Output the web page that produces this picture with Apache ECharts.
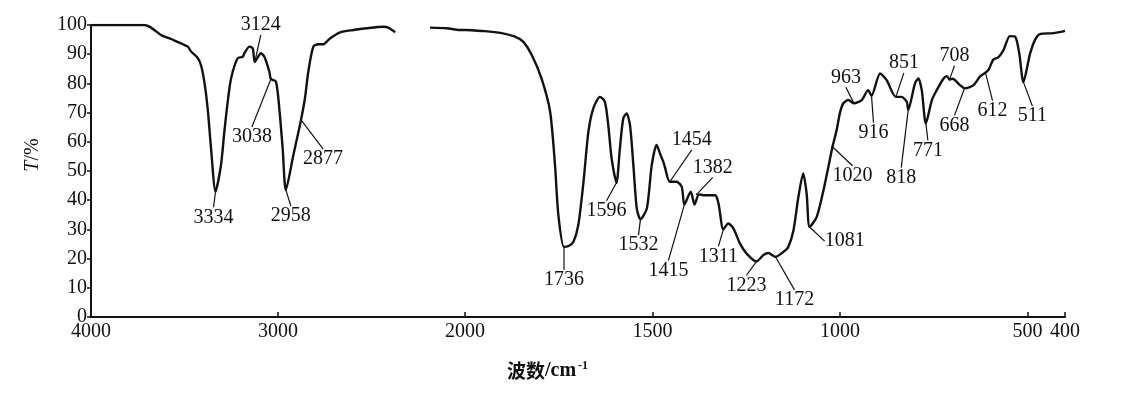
<!DOCTYPE html>
<html>
<head>
<meta charset="utf-8">
<script src="https://cdn.jsdelivr.net/npm/echarts@6/dist/echarts.min.js"></script>
<style>
  html, body { margin: 0; padding: 0; background: #fff; }
  #main { width: 1126px; height: 393px; }
</style>
</head>
<body>
<div id="main"></div>
<script>
// 光谱数据：第一段 4000 ~ 2374
var wn1 = [4000, 3715, 3679, 3626, 3572, 3483, 3465, 3430, 3412, 3394, 3376, 3358, 3334, 3305, 3287, 3269, 3251, 3216, 3189, 3180, 3153, 3135, 3124, 3091, 3073, 3046, 3038, 3011, 2993, 2975, 2958, 2918, 2877, 2856, 2838, 2811, 2784, 2758, 2722, 2668, 2597, 2526, 2437, 2410, 2374];
var t1 = [100, 100, 99.1, 96.6, 95.2, 92.6, 90.9, 88.8, 86.3, 80.6, 71.4, 57.7, 43, 52, 63.4, 73.7, 81.7, 88.6, 89.1, 90.3, 92.6, 92, 87.4, 90.3, 89.1, 84, 81.5, 80.6, 71.4, 57.7, 43.5, 55.4, 67.5, 74.9, 84, 92.6, 93.4, 93.4, 95.4, 97.5, 98.3, 98.9, 99.4, 99.1, 97.5];

// 第二段 2187 ~ 400
var wn2 = [2187, 2098, 2027, 2000, 1947, 1902, 1867, 1845, 1822, 1796, 1773, 1760, 1751, 1736, 1724, 1711, 1698, 1684, 1671, 1658, 1640, 1627, 1618, 1609, 1596, 1587, 1578, 1569, 1560, 1551, 1542, 1532, 1515, 1502, 1489, 1480, 1471, 1467, 1454, 1436, 1422, 1415, 1398, 1388, 1376, 1364, 1333, 1324, 1311, 1298, 1284, 1267, 1249, 1223, 1204, 1191, 1172, 1151, 1138, 1124, 1111, 1098, 1089, 1081, 1062, 1044, 1031, 1020, 1009, 1000, 991, 978, 963, 942, 925, 916, 893, 876, 851, 836, 822, 818, 800, 791, 782, 771, 755, 742, 724, 715, 708, 700, 680, 668, 644, 627, 612, 604, 591, 578, 564, 547, 533, 522, 511, 493, 480, 467, 431, 400];
var t2 = [99.1, 98.9, 98.3, 98.3, 97.9, 97.2, 96, 94.3, 89.7, 81.7, 70.3, 52, 34.9, 24, 24.3, 25.7, 31.4, 46.3, 63.4, 71.4, 75.4, 73.7, 65.7, 54.3, 46, 57.7, 68, 69.7, 65.7, 52, 37.2, 33.5, 37.2, 52, 58.9, 56, 53.1, 51.4, 46.3, 46.3, 44.6, 38.5, 42.9, 38.5, 42, 41.7, 41.7, 38.9, 30, 32, 30.3, 25.2, 21.7, 19, 21.2, 21.9, 20.6, 22.3, 24, 29.7, 41.1, 49.2, 42.3, 30.8, 34.3, 43.4, 51.4, 58.3, 64, 70, 73.2, 74.3, 73.2, 74.3, 77.7, 75.8, 83.4, 81.2, 75.4, 75.4, 73.7, 71, 80, 81.7, 77.7, 66.3, 74.3, 77.7, 81.7, 82.5, 81.3, 81.6, 79.4, 78.3, 79.4, 82.3, 83.7, 84.6, 88.2, 88.9, 91.4, 96.2, 96, 90.3, 80.5, 90.3, 94.9, 96.9, 97.2, 98];

// 标注的峰
var peakWn = [3334, 3124, 3038, 2958, 2877, 1736, 1596, 1532, 1454, 1415, 1382, 1311, 1223, 1172, 1081, 1020, 963, 916, 851, 818, 771, 708, 668, 612, 511];
var peakT = [43, 87.4, 81.5, 43.5, 67.5, 24, 46, 33.5, 46.3, 38.5, 42, 30, 19, 20.6, 30.8, 58.3, 73.2, 75.8, 75.4, 71, 66.3, 81.3, 78.3, 83.7, 80.5];

// 刻度
var xTicksHigh = [4000, 3000];
var xTicksLow = [2000, 1500, 1000, 500, 400];

// 标签相对峰点的偏移 (px)
var labelOffsets = [
  [-2, 26], [6, -37], [-19, 58], [5, 26], [22, 39],
  [0, 33], [-10, 28], [-2, 26], [22, -42], [-16, 66], [16, -27], [-5, 27],
  [-10, 24], [19, 43], [35, 14], [20, 29], [-8, -26], [2, 37], [8, -34],
  [-7, 68], [2, 27], [5, -24], [-10, 37], [7, 38], [9, 34]
];

var serif = '"Liberation Serif", "Times New Roman", serif';
var ink = '#111';

function pairs(ws, ts, lo, hi) {
  var out = [];
  for (var i = 0; i < ws.length; i++) {
    if (ws[i] >= lo && ws[i] <= hi) out.push([ws[i], ts[i]]);
  }
  return out;
}

var peaksHigh = [], peaksLow = [], offHigh = [], offLow = [];
for (var i = 0; i < peakWn.length; i++) {
  if (peakWn[i] > 2000) {
    peaksHigh.push([peakWn[i], peakT[i]]);
    offHigh.push(labelOffsets[i]);
  } else {
    peaksLow.push([peakWn[i], peakT[i]]);
    offLow.push(labelOffsets[i]);
  }
}

var lineStyle = { color: ink, width: 2.4 };

function peakSeries(xi, data, offs) {
  return {
    type: 'scatter',
    xAxisIndex: xi,
    yAxisIndex: xi,
    data: data,
    symbol: 'circle',
    symbolSize: 2,
    itemStyle: { color: ink, opacity: 1 },
    silent: true,
    label: {
      show: true,
      position: 'inside',
      formatter: function (p) { return p.value[0]; },
      fontFamily: serif,
      fontSize: 20,
      color: ink,
      opacity: 1,
      textBorderWidth: 0,
      textBorderColor: 'transparent'
    },
    labelLine: { show: true, lineStyle: { color: ink, width: 1.2, opacity: 1 } },
    labelLayout: function (p) {
      var o = offs[p.dataIndex];
      return { dx: o[0], dy: o[1] };
    },
    z: 5
  };
}

function plain(v) { return String(v); }

var chart = echarts.init(document.getElementById('main'));
chart.setOption({
  animation: false,
  backgroundColor: '#fff',
  title: {
    text: '{c|波数}{a|/cm}{b|-1}',
    left: 502,
    top: 355,
    textStyle: {
      rich: {
        c: { fontFamily: '"Noto Sans CJK SC"', fontSize: 19, fontWeight: 'bold', color: ink },
        a: { fontFamily: serif, fontSize: 20, fontWeight: 'bold', color: ink },
        b: { fontFamily: serif, fontSize: 12, color: ink, verticalAlign: 'top', padding: [0, 0, 10, 2] }
      }
    }
  },
  grid: [
    { left: 91, right: 661, top: 25, bottom: 76 },
    { left: 465, right: 61, top: 25, bottom: 76 }
  ],
  xAxis: [{
    gridIndex: 0,
    type: 'value',
    min: 2000,
    max: 4000,
    inverse: true,
    splitLine: { show: false },
    axisLine: { lineStyle: { color: ink, width: 2 } },
    axisTick: { inside: true, length: 5, customValues: xTicksHigh, lineStyle: { color: ink, width: 1.5 } },
    axisLabel: { customValues: xTicksHigh, formatter: plain, fontFamily: serif, fontSize: 20, color: ink, margin: 5 }
  }, {
    gridIndex: 1,
    type: 'value',
    min: 400,
    max: 2000,
    inverse: true,
    splitLine: { show: false },
    axisLine: { lineStyle: { color: ink, width: 2 } },
    axisTick: { inside: true, length: 5, customValues: xTicksLow, lineStyle: { color: ink, width: 1.5 } },
    axisLabel: { customValues: xTicksLow, formatter: plain, fontFamily: serif, fontSize: 20, color: ink, margin: 5 }
  }],
  yAxis: [{
    gridIndex: 0,
    type: 'value',
    min: 0,
    max: 100,
    interval: 10,
    name: '{i|T}/%',
    nameLocation: 'middle',
    nameGap: 48,
    nameTextStyle: {
      fontFamily: serif,
      fontSize: 20,
      color: ink,
      padding: [0, 0, 0, 32],
      rich: { i: { fontFamily: serif, fontSize: 20, fontStyle: 'italic', color: ink } }
    },
    splitLine: { show: false },
    axisLine: { show: true, lineStyle: { color: ink, width: 2 } },
    axisTick: { show: true, length: 4, lineStyle: { color: ink, width: 1.5 } },
    axisLabel: { fontFamily: serif, fontSize: 20, color: ink, margin: 4 }
  }, {
    gridIndex: 1,
    type: 'value',
    min: 0,
    max: 100,
    show: false
  }],
  series: [{
    type: 'line',
    xAxisIndex: 0,
    yAxisIndex: 0,
    data: pairs(wn1, t1, 2000, 4000),
    showSymbol: false,
    smooth: 0.25,
    lineStyle: lineStyle
  }, {
    type: 'line',
    xAxisIndex: 0,
    yAxisIndex: 0,
    data: pairs(wn2, t2, 2000, 4000),
    showSymbol: false,
    smooth: 0.25,
    lineStyle: lineStyle
  }, {
    type: 'line',
    xAxisIndex: 1,
    yAxisIndex: 1,
    data: pairs(wn2, t2, 0, 2000),
    showSymbol: false,
    smooth: 0.25,
    lineStyle: lineStyle
  },
  peakSeries(0, peaksHigh, offHigh),
  peakSeries(1, peaksLow, offLow)
  ]
});
</script>
</body>
</html>
